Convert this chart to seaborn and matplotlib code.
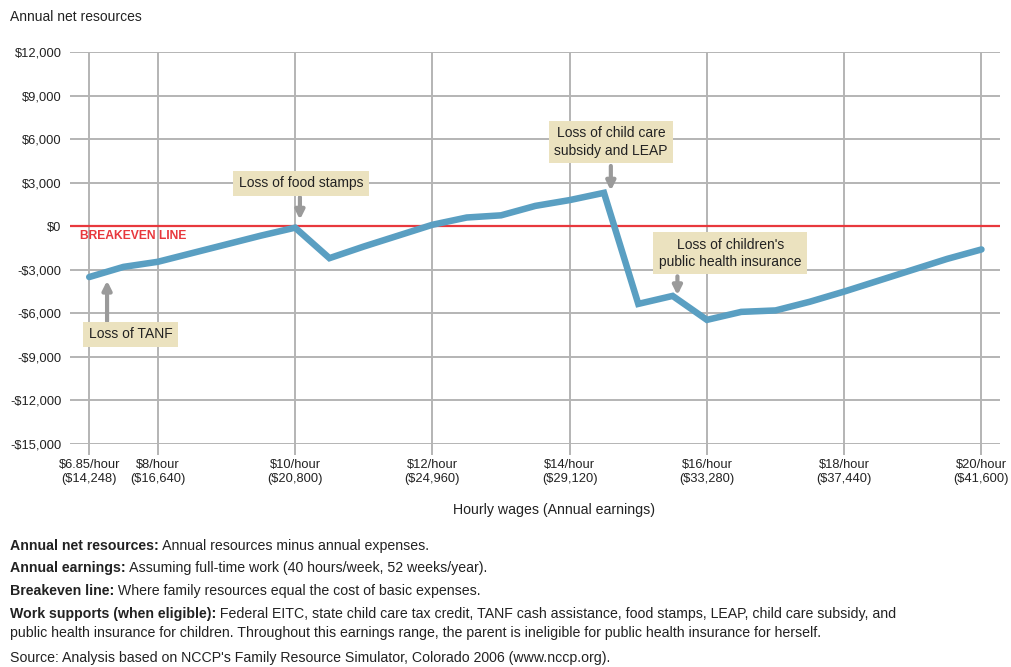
import matplotlib
matplotlib.use("Agg")
import matplotlib.pyplot as plt
import pandas as pd
import seaborn as sns

# Hourly wage (plot position; the first point, $6.85, sits one step left of $8)
wage = [7, 7.5, 8, 8.5, 9, 9.5, 10, 10.5, 11, 11.5, 12, 12.5, 13, 13.5,
        14, 14.5, 15, 15.5, 16, 16.5, 17, 17.5, 18, 18.5, 19, 19.5, 20]
net_resources = [-3500, -2800, -2450, -1850, -1250, -650, -100, -2200, -1400,
                 -650, 100, 600, 750, 1400, 1800, 2300, -5350, -4800, -6450,
                 -5900, -5800, -5200, -4500, -3750, -3000, -2250, -1600]

tick_pos = [7, 8, 10, 12, 14, 16, 18, 20]
tick_labels = ["$6.85/hour\n($14,248)", "$8/hour\n($16,640)", "$10/hour\n($20,800)",
               "$12/hour\n($24,960)", "$14/hour\n($29,120)", "$16/hour\n($33,280)",
               "$18/hour\n($37,440)", "$20/hour\n($41,600)"]
y_ticks = [-15000, -12000, -9000, -6000, -3000, 0, 3000, 6000, 9000, 12000]
y_labels = ["-$15,000", "-$12,000", "-$9,000", "-$6,000", "-$3,000", "$0",
            "$3,000", "$6,000", "$9,000", "$12,000"]

# annotation texts, box centres and arrow (x, y_from, y_to)
notes = ["Loss of TANF", "Loss of food stamps",
         "Loss of child care\nsubsidy and LEAP",
         "Loss of children's\npublic health insurance"]
note_xy = [(7.6, -7450), (10.09, 2950), (14.6, 5800), (16.34, -1860)]
arrows = [(7.26, -6550, -3750), (10.07, 2000, 450), (14.6, 4150, 2450),
          (15.57, -3450, -4750)]

df = pd.DataFrame({"wage": wage, "net": net_resources})

sns.set_style("white")
plt.rcParams["font.family"] = ["Liberation Sans", "DejaVu Sans"]

fig = plt.figure(figsize=(10.12, 6.67), dpi=100)
ax = fig.add_axes([70 / 1012, 1 - 444 / 667, 930 / 1012, 392 / 667])

grid_c = "#b4b4b4"
txt_c = "#222222"
for y in y_ticks:
    ax.axhline(y, color=grid_c, lw=1.4, zorder=0)
for x in tick_pos:
    ax.axvline(x, color=grid_c, lw=1.4, zorder=0)
ax.axhline(0, color="#e8383d", lw=1.6, zorder=1)

sns.lineplot(data=df, x="wage", y="net", ax=ax, color="#5a9fc2", lw=4.7,
             solid_joinstyle="miter", zorder=3)

ax.set_xlim(6.72, 20.27)
ax.set_ylim(-15000, 12000)
for s in ax.spines.values():
    s.set_visible(False)
ax.set_xticks(tick_pos)
ax.set_xticklabels(tick_labels, fontsize=9.3, color=txt_c, linespacing=1.2)
ax.set_yticks(y_ticks)
ax.set_yticklabels(y_labels, fontsize=9.3, color=txt_c)
ax.tick_params(axis="x", length=8, width=1.4, color=grid_c, pad=3, bottom=True)
ax.tick_params(axis="y", length=0, pad=6)
ax.set_xlabel("")
ax.set_ylabel("")

fig.text(554 / 1012, 1 - 510 / 667, "Hourly wages (Annual earnings)", fontsize=10.2,
         color=txt_c, ha="center", va="center")

ax.text(6.86, -650, "BREAKEVEN LINE", color="#e8383d", fontsize=8.7,
        fontweight="bold", ha="left", va="center")

for txt, (tx, ty) in zip(notes, note_xy):
    ax.text(tx, ty, txt, ha="center", va="center", fontsize=10, color=txt_c,
            linespacing=1.3, zorder=5,
            bbox=dict(boxstyle="square,pad=0.4", fc="#ebe2bf", ec="none"))
for ax_x, y0, y1 in arrows:
    ax.annotate("", xy=(ax_x, y1), xytext=(ax_x, y0), zorder=4,
                arrowprops=dict(arrowstyle="-|>", color="#9a9a9a", lw=3,
                                mutation_scale=13, shrinkA=0, shrinkB=0))

fig.text(10 / 1012, 1 - 17 / 667, "Annual net resources", fontsize=10,
         color=txt_c, va="center")

# footnotes: bold lead-in followed by regular text
foot = [("Annual net resources:", " Annual resources minus annual expenses.", 546),
        ("Annual earnings:", " Assuming full-time work (40 hours/week, 52 weeks/year).", 568),
        ("Breakeven line:", " Where family resources equal the cost of basic expenses.", 591),
        ("Work supports (when eligible):", " Federal EITC, state child care tax credit, TANF cash assistance, food stamps, LEAP, child care subsidy, and", 614),
        ("", "public health insurance for children. Throughout this earnings range, the parent is ineligible for public health insurance for herself.", 633),
        ("", "Source: Analysis based on NCCP's Family Resource Simulator, Colorado 2006 (www.nccp.org).", 658)]
for bold, rest, ypx in foot:
    b = fig.text(10 / 1012, 1 - ypx / 667, bold, fontsize=10.2,
                 fontweight="bold", color=txt_c, va="center")
    ax.annotate(rest, xy=(1, 0.5), xycoords=b, va="center", ha="left",
                fontsize=10.2, color=txt_c, annotation_clip=False)

fig.savefig("out.png", dpi=100)
